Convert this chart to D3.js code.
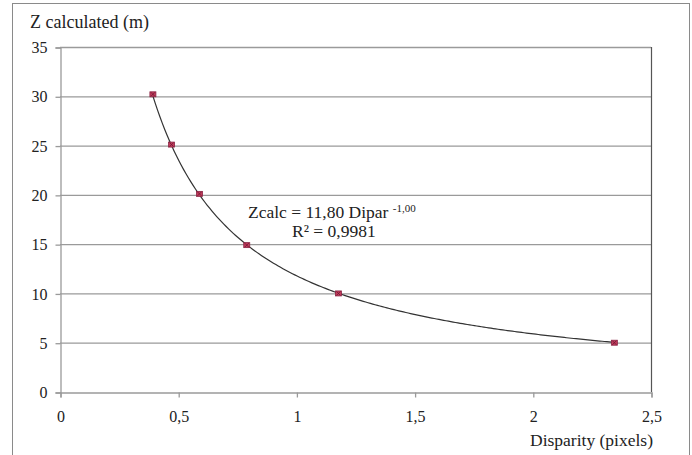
<!DOCTYPE html>
<html>
<head>
<meta charset="utf-8">
<script src="https://cdn.jsdelivr.net/npm/d3@7"></script>
<style>
  html, body { margin: 0; padding: 0; background: #fff; }
  #viz { width: 692px; height: 455px; }
  text { font-family: "Liberation Serif", "DejaVu Serif", serif; fill: #222; }
</style>
</head>
<body>
<div id="viz"></div>
<script>
// -----------------------------
// DATA
// -----------------------------
const disparity = [0.393, 0.472, 0.590, 0.790, 1.178, 2.345];
const zCalc     = [30.2, 25.1, 20.1, 14.9, 10.0, 5.0];
const xTicks = [0, 0.5, 1, 1.5, 2, 2.5];
const yTicks = [0, 5, 10, 15, 20, 25, 30, 35];
const fitCoef = 11.80;   // Zcalc = 11,80 Dipar^-1,00
const fitExp  = -1.00;

const width = 692, height = 455;
const plot = { left: 60, right: 651, top: 47, bottom: 392 };

const svg = d3.select("#viz")
  .append("svg")
  .attr("width", width)
  .attr("height", height);

// outer chart border
svg.append("rect")
  .attr("x", 12.5).attr("y", 3.5)
  .attr("width", 677).attr("height", 470)
  .attr("fill", "none")
  .attr("stroke", "#8a8a8a")
  .attr("stroke-width", 1);

const x = d3.scaleLinear().domain([0, 2.5]).range([plot.left, plot.right]);
const y = d3.scaleLinear().domain([0, 35]).range([plot.bottom, plot.top]);
const fmt = d => String(d).replace(".", ",");

// -----------------------------
// GRID
// -----------------------------
svg.append("g")
  .selectAll("line")
  .data(yTicks.filter(d => d > 0))
  .join("line")
  .attr("x1", plot.left).attr("x2", plot.right)
  .attr("y1", d => y(d) + 0.5).attr("y2", d => y(d) + 0.5)
  .attr("stroke", "#9a9a9a")
  .attr("stroke-width", 1.3);

// right border of plot area
svg.append("line")
  .attr("x1", plot.right + 0.5).attr("x2", plot.right + 0.5)
  .attr("y1", plot.top).attr("y2", plot.bottom)
  .attr("stroke", "#555")
  .attr("stroke-width", 1.2);

// -----------------------------
// AXES
// -----------------------------
const yAxis = svg.append("g")
  .attr("transform", `translate(${plot.left + 0.5},0.5)`)
  .call(d3.axisLeft(y).tickValues(yTicks).tickSize(5).tickPadding(8).tickFormat(fmt));
const xAxis = svg.append("g")
  .attr("transform", `translate(0.5,${plot.bottom + 0.5})`)
  .call(d3.axisBottom(x).tickValues(xTicks).tickSize(5).tickPadding(12).tickFormat(fmt));

[yAxis, xAxis].forEach(g => {
  g.select(".domain").attr("stroke", "#9a9a9a").attr("stroke-width", 1.3);
  g.selectAll(".tick line").attr("stroke", "#9a9a9a").attr("stroke-width", 1.3);
  g.selectAll(".tick text")
    .attr("fill", "#333")
    .style("font-family", "\"Liberation Serif\", serif")
    .style("font-size", "16px");
});
xAxis.selectAll(".tick text").attr("dy", "0.8em");

// -----------------------------
// TREND LINE (power fit)
// -----------------------------
const xs = d3.range(disparity[0], disparity[disparity.length - 1] + 0.0001, 0.01);
const line = d3.line()
  .x(d => x(d))
  .y(d => y(fitCoef * Math.pow(d, fitExp)));

svg.append("path")
  .datum(xs)
  .attr("d", line)
  .attr("fill", "none")
  .attr("stroke", "#333")
  .attr("stroke-width", 1.2);

// -----------------------------
// POINTS
// -----------------------------
const pts = disparity.map((d, i) => ({ x: d, z: zCalc[i] }));
const marks = svg.append("g")
  .selectAll("g")
  .data(pts)
  .join("g")
  .attr("transform", d => `translate(${x(d.x)},${y(d.z)})`);
marks.append("rect")
  .attr("x", -3).attr("y", -2.5)
  .attr("width", 6).attr("height", 5)
  .attr("fill", "#c23a5a")
  .attr("stroke", "#8a2545")
  .attr("stroke-width", 0.8);
marks.append("path")
  .attr("d", "M-2,-2L2,2M2,-2L-2,2")
  .attr("stroke", "#6a1a35")
  .attr("stroke-width", 0.8);

// -----------------------------
// LABELS
// -----------------------------
svg.append("text")
  .attr("x", 30).attr("y", 28)
  .attr("font-size", 18)
  .text("Z calculated (m)");

svg.append("text")
  .attr("x", 653).attr("y", 446)
  .attr("text-anchor", "end")
  .attr("font-size", 17.5)
  .text("Disparity (pixels)");

const eq = svg.append("text")
  .attr("x", 248).attr("y", 218)
  .attr("font-size", 17.5);
eq.append("tspan").text("Zcalc = 11,80 Dipar ");
eq.append("tspan")
  .attr("font-size", 11)
  .attr("dy", -6)
  .text("-1,00");

svg.append("text")
  .attr("x", 292).attr("y", 237)
  .attr("font-size", 17.5)
  .text("R² = 0,9981");
</script>
</body>
</html>
